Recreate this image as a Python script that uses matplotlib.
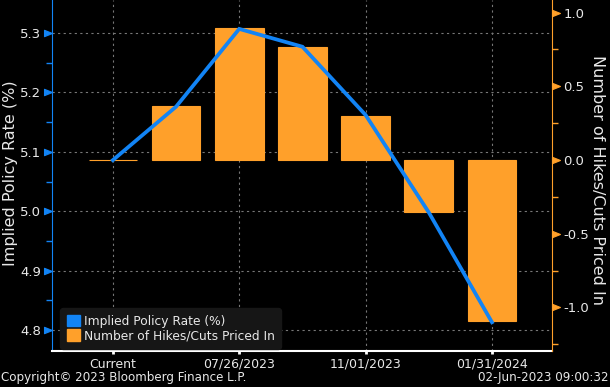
import numpy as np
import matplotlib
matplotlib.use('Agg')
import matplotlib.pyplot as plt
from matplotlib.path import Path
from matplotlib.patches import Patch

# Data
meetings = ['Current', '06/14/2023', '07/26/2023', '09/20/2023',
            '11/01/2023', '12/13/2023', '01/31/2024']
implied_rate = [5.086, 5.176, 5.307, 5.277, 5.162, 4.998, 4.813]
hikes_cuts = [0.0, 0.366, 0.895, 0.766, 0.298, -0.35, -1.092]
left_ticks = [4.8, 4.9, 5.0, 5.1, 5.2, 5.3]
right_ticks = [-1.0, -0.5, 0.0, 0.5, 1.0]

BLUE = '#1284F5'
ORANGE = '#FFA02A'
TXT = '#E8E8E8'

plt.rcParams['font.family'] = ['DejaVu Sans']

fig = plt.figure(figsize=(6.1, 3.87), dpi=100, facecolor='black')
ax = fig.add_axes([52 / 610, 1 - 351 / 387, 500 / 610, 351 / 387])
ax.set_facecolor('black')
ax2 = ax.twinx()

x = np.arange(len(meetings))

# bars (right axis), line (left axis) drawn on top
ax2.bar(x, hikes_cuts, width=0.77, color=ORANGE, edgecolor=ORANGE, linewidth=0.8, zorder=2)
ax2.plot(x, implied_rate, color=BLUE, linewidth=2.7, transform=ax.transData,
         solid_joinstyle='miter', zorder=3)

ax.set_xlim(-0.963, 6.95)
ax2.set_xlim(-0.963, 6.95)
ax.set_ylim(4.7646, 5.3557)
ax2.set_ylim(-1.295, 1.085)

ax.set_yticks(left_ticks)
ax.set_yticklabels([f'{v:.1f}' for v in left_ticks])
ax.set_yticks(np.arange(4.85, 5.35, 0.1), minor=True)
ax2.set_yticks(right_ticks)
ax2.set_yticklabels([f'{v:.1f}' for v in right_ticks])
ax2.set_yticks(np.arange(-1.25, 1.0, 0.5), minor=True)

ax.set_xticks(x[::2])
ax.set_xticklabels(meetings[::2])

ax.grid(True, color='#777777', linestyle=(0, (2, 3)), linewidth=0.8)
ax.set_axisbelow(True)

# spines
for s in ['top', 'right']:
    ax.spines[s].set_visible(False)
for s in ['top', 'left', 'bottom']:
    ax2.spines[s].set_visible(False)
ax.spines['left'].set_color(BLUE)
ax.spines['bottom'].set_color('white')
ax.spines['bottom'].set_linewidth(1.5)
ax2.spines['right'].set_color(ORANGE)

# triangle tick markers
tri_left = Path([(-1, -0.4), (0, 0), (-1, 0.4), (-1, -0.4)],
                [Path.MOVETO, Path.LINETO, Path.LINETO, Path.CLOSEPOLY])
tri_right = Path([(0, -0.4), (1, 0), (0, 0.4), (0, -0.4)],
                 [Path.MOVETO, Path.LINETO, Path.LINETO, Path.CLOSEPOLY])

ax.tick_params(axis='y', which='major', length=6, pad=2, colors=TXT, labelsize=9.5)
ax.tick_params(axis='y', which='minor', length=4, color=BLUE, width=1)
for t in ax.yaxis.get_major_ticks():
    t.tick1line.set_marker(tri_left)
    t.tick1line.set_markersize(11.5)
    t.tick1line.set_markerfacecolor(BLUE)
    t.tick1line.set_markeredgecolor(BLUE)

ax2.tick_params(axis='y', which='major', length=6, pad=2, colors=TXT, labelsize=9.5)
ax2.tick_params(axis='y', which='minor', length=4, color=ORANGE, width=1)
for t in ax2.yaxis.get_major_ticks():
    t.tick2line.set_marker(tri_right)
    t.tick2line.set_markersize(11.5)
    t.tick2line.set_markerfacecolor(ORANGE)
    t.tick2line.set_markeredgecolor(ORANGE)

ax.tick_params(axis='x', length=2, width=2, color='white', colors=TXT, labelsize=9, pad=3)

# axis labels
fig.text(0.017, 0.553, 'Implied Policy Rate (%)', rotation=90, color=TXT,
         fontsize=11.5, ha='center', va='center')
fig.text(0.979, 0.535, 'Number of Hikes/Cuts Priced In', rotation=-90, color=TXT,
         fontsize=11.5, ha='center', va='center')

# legend
handles = [Patch(color=BLUE, label='Implied Policy Rate (%)'),
           Patch(color=ORANGE, label='Number of Hikes/Cuts Priced In')]
leg = ax2.legend(handles=handles, loc='lower left', bbox_to_anchor=(0.012, 0.0),
                 frameon=True, facecolor='#161616', edgecolor='#161616', framealpha=1,
                 fontsize=8.8, handlelength=1.1, handleheight=1.1, handletextpad=0.3,
                 borderpad=0.5, labelspacing=0.15, borderaxespad=0.2)
for txt in leg.get_texts():
    txt.set_color(TXT)

# footer
fig.text(0.002, 0.008, 'Copyright\u00a9 2023 Bloomberg Finance L.P.', color=TXT,
         fontsize=8.6, ha='left', va='bottom')
fig.text(0.997, 0.008, '02-Jun-2023 09:00:32', color=TXT,
         fontsize=8.6, ha='right', va='bottom')

fig.savefig('out.png', dpi=100, facecolor='black')
